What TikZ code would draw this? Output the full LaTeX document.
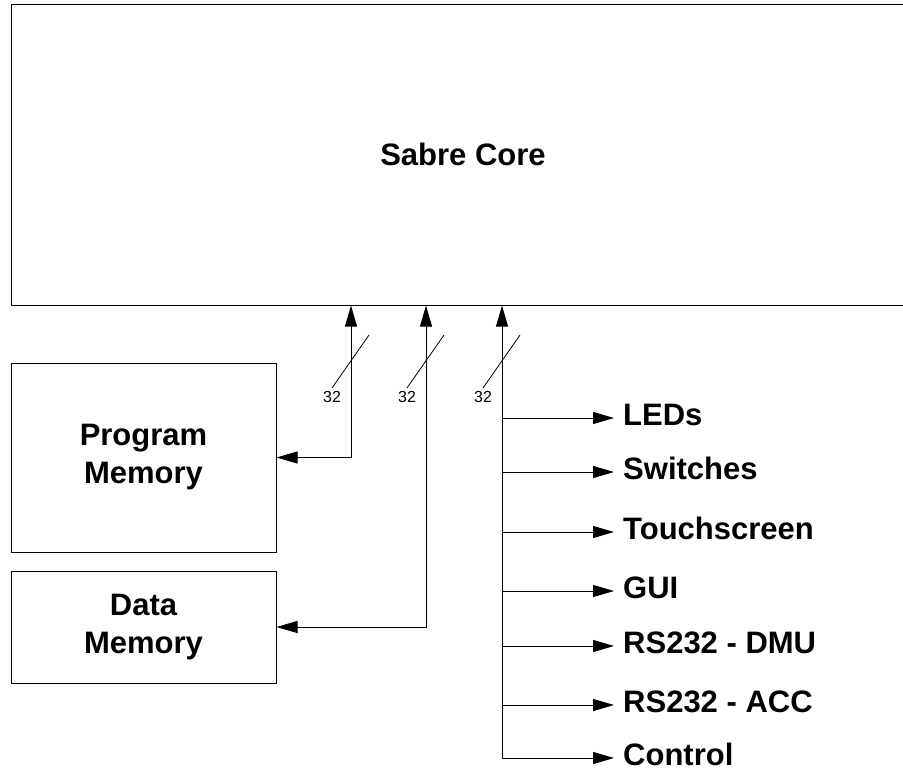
\documentclass[tikz,border=0pt]{standalone}
\usepackage{fontspec}
\setmainfont{Liberation Sans}
\usetikzlibrary{arrows.meta}
\begin{document}
\begin{tikzpicture}[x=1pt,y=-1pt,
  >={Triangle[length=21pt,width=12pt]},
  big/.style={font=\fontsize{31}{38}\selectfont\bfseries},
  box/.style={draw,line width=1pt,rectangle,inner sep=0pt,big,align=center},
  wire/.style={line width=1pt},
  outlbl/.style={big,anchor=west,inner xsep=9pt,inner ysep=0pt,text height=14pt,text depth=0pt},
  buslbl/.style={font=\fontsize{16}{18}\selectfont,anchor=north,inner sep=3pt}]
\useasboundingbox (0,0) rectangle (903,769);
\clip (0,0) rectangle (903,769);
% blocks
\node[box,minimum width=904pt,minimum height=301pt] (core) at (463,154.5) {Sabre Core};
\node[box,minimum width=265pt,minimum height=189pt] (pm) at (143.5,457.5) {Program\\Memory};
\node[box,minimum width=265pt,minimum height=112pt] (dm) at (143.5,627) {Data\\Memory};
% bus width mark centres
\coordinate (k1) at (351,361.5);
\coordinate (k2) at (426,361.5);
\coordinate (k3) at (502,361.5);
% outputs
\node[outlbl] (leds) at (614,418) {LEDs};
\node[outlbl] (sw)   at (614,472) {Switches};
\node[outlbl] (ts)   at (614,532) {Touchscreen};
\node[outlbl] (gui)  at (614,591) {GUI};
\node[outlbl] (dmu)  at (614,646) {RS232 - DMU};
\node[outlbl] (acc)  at (614,705) {RS232 - ACC};
\node[outlbl] (ctrl) at (614,758) {Control};
% memory buses
\draw[wire,<->] (pm.east) -| (k1 |- core.south);
\draw[wire,<->] (dm.east) -| (k2 |- core.south);
% peripheral bus
\draw[wire,->] (k3 |- ctrl.west) -- (k3 |- core.south);
\draw[wire,->] (k3 |- ctrl.west) -- (ctrl.west);
\foreach \n in {leds,sw,ts,gui,dmu,acc}
  \draw[wire,->] (k3 |- \n.west) -- (\n.west);
% bus width marks
\foreach \k in {k1,k2,k3}
  \draw[line width=0.8pt] ([shift={(18,-26.5)}]\k) -- ([shift={(-19,26.5)}]\k)
     node[buslbl] {32};
\end{tikzpicture}
\end{document}
